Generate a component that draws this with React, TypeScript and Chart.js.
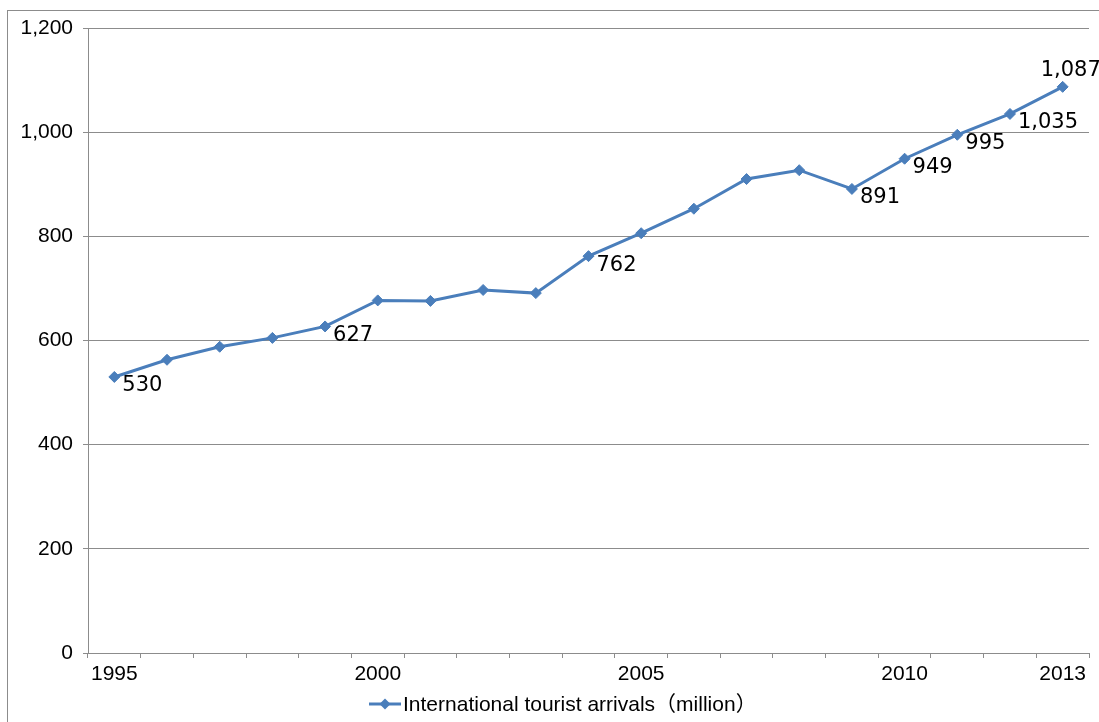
import React, { useEffect, useRef } from 'react';
import { Chart, registerables } from 'chart.js';

Chart.register(...registerables);

const years = ['1995', '1996', '1997', '1998', '1999', '2000', '2001', '2002', '2003', '2004', '2005', '2006', '2007', '2008', '2009', '2010', '2011', '2012', '2013'];
const arrivals = [530, 563, 588, 605, 627, 677, 676, 697, 691, 762, 806, 853, 910, 927, 891, 949, 995, 1035, 1087];
const shownYearLabels = ['1995', '2000', '2005', '2010', '2013'];
const labeledIndices = [0, 4, 9, 14, 15, 16, 17];
const aboveLabeledIndices = [18];
const seriesLabel = 'International tourist arrivals（million）';
const yMin = 0;
const yMax = 1200;
const yStep = 200;

const LINE_COLOR = '#4a7ebb';
const AXIS_COLOR = '#8c8c8c';
const TICK_FONT = '"Liberation Sans", "Noto Sans CJK JP", sans-serif';
const LABEL_FONT = '"DejaVu Sans", "Noto Sans CJK JP", sans-serif';

const fmt = (v: number) => v.toLocaleString('en-US');

const dataLabelPlugin = {
  id: 'dataLabels',
  afterDatasetsDraw(chart: any) {
    const ctx = chart.ctx;
    const meta = chart.getDatasetMeta(0);
    ctx.save();
    ctx.fillStyle = '#000';
    ctx.font = `21px ${LABEL_FONT}`;
    ctx.textBaseline = 'middle';
    ctx.textAlign = 'left';
    labeledIndices.forEach((i) => {
      const p = meta.data[i];
      ctx.fillText(fmt(arrivals[i]), p.x + 8, p.y + 9);
    });
    aboveLabeledIndices.forEach((i) => {
      const p = meta.data[i];
      ctx.fillText(fmt(arrivals[i]), p.x - 22, p.y - 16);
    });
    ctx.restore();
  },
};

const legendPlugin = {
  id: 'customLegend',
  afterDraw(chart: any) {
    const ctx = chart.ctx;
    const y = 704;
    ctx.save();
    ctx.strokeStyle = LINE_COLOR;
    ctx.lineWidth = 3;
    ctx.beginPath();
    ctx.moveTo(369, y);
    ctx.lineTo(401, y);
    ctx.stroke();
    ctx.fillStyle = LINE_COLOR;
    ctx.beginPath();
    ctx.moveTo(385, y - 5.5);
    ctx.lineTo(390.5, y);
    ctx.lineTo(385, y + 5.5);
    ctx.lineTo(379.5, y);
    ctx.closePath();
    ctx.fill();
    ctx.fillStyle = '#000';
    ctx.font = `21px ${TICK_FONT}`;
    ctx.textBaseline = 'middle';
    ctx.textAlign = 'left';
    ctx.fillText(chart.data.datasets[0].label, 403, y + 1);
    ctx.restore();
  },
};

export default function App() {
  const ref = useRef<HTMLCanvasElement | null>(null);

  useEffect(() => {
    if (!ref.current) return;
    const chart = new Chart(ref.current, {
      type: 'line',
      data: {
        labels: years,
        datasets: [
          {
            label: seriesLabel,
            data: arrivals,
            borderColor: LINE_COLOR,
            backgroundColor: LINE_COLOR,
            borderWidth: 3,
            tension: 0,
            pointStyle: 'rectRot',
            pointRadius: 5.5,
            pointBorderWidth: 1,
            pointBackgroundColor: LINE_COLOR,
            pointBorderColor: LINE_COLOR,
          },
        ],
      },
      options: {
        animation: false,
        responsive: false,
        maintainAspectRatio: false,
        layout: { padding: { top: 28, right: 10, left: 0, bottom: 0 } },
        plugins: {
          legend: { display: false },
          tooltip: { enabled: false },
        },
        scales: {
          x: {
            type: 'category',
            offset: true,
            afterFit: (s: any) => {
              s.height = 69;
            },
            grid: {
              offset: true,
              drawOnChartArea: false,
              drawTicks: true,
              tickLength: 5,
              color: AXIS_COLOR,
            },
            border: { display: true, color: AXIS_COLOR, width: 1 },
            ticks: {
              autoSkip: false,
              maxRotation: 0,
              minRotation: 0,
              padding: 4,
              color: '#000',
              font: { family: TICK_FONT, size: 21 },
              callback: function (this: any, _v: any, i: number) {
                const lbl = years[i];
                return shownYearLabels.includes(lbl) ? lbl : '';
              },
            },
          },
          y: {
            min: yMin,
            max: yMax,
            afterFit: (s: any) => {
              s.width = 88;
            },
            grid: {
              color: AXIS_COLOR,
              tickLength: 5,
              drawTicks: true,
            },
            border: { display: true, color: AXIS_COLOR, width: 1 },
            ticks: {
              stepSize: yStep,
              padding: 10,
              color: '#000',
              font: { family: TICK_FONT, size: 21 },
              callback: (v: any) => fmt(Number(v)),
            },
          },
        },
      },
      plugins: [dataLabelPlugin, legendPlugin],
    });
    return () => chart.destroy();
  }, []);

  return (
    <div style={{ position: 'fixed', left: 0, top: 0, width: 1099, height: 722, background: '#fff', overflow: 'hidden' }}>
      <div
        style={{
          position: 'absolute',
          left: 7,
          top: 10,
          width: 1200,
          height: 800,
          borderLeft: `1px solid ${AXIS_COLOR}`,
          borderTop: `1px solid ${AXIS_COLOR}`,
        }}
      />
      <canvas ref={ref} width={1099} height={722} style={{ position: 'absolute', left: 0, top: 0, display: 'block' }} />
    </div>
  );
}
